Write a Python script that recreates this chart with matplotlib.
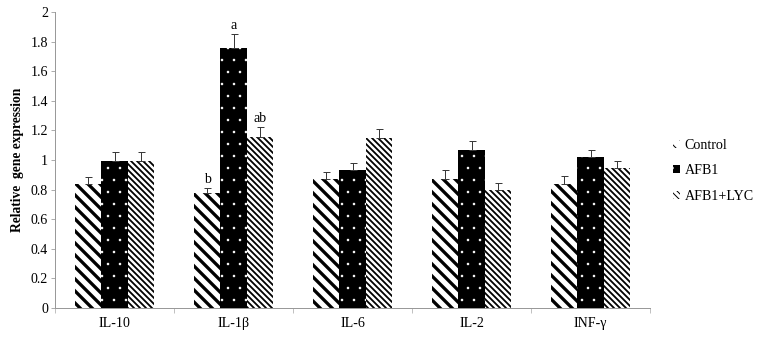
import matplotlib
matplotlib.use("Agg")
import matplotlib.pyplot as plt
import numpy as np

categories = ["IL-10", "IL-1β", "IL-6", "IL-2", "INF-γ"]
series = ["Control", "AFB1", "AFB1+LYC"]
control = [0.84, 0.775, 0.87, 0.875, 0.84]
afb1 = [0.995, 1.76, 0.93, 1.07, 1.02]
lyc = [0.995, 1.155, 1.15, 0.80, 0.945]
control_err = [0.045, 0.035, 0.05, 0.055, 0.05]
afb1_err = [0.06, 0.09, 0.05, 0.06, 0.05]
lyc_err = [0.06, 0.065, 0.06, 0.045, 0.05]
letters = {(1, 0): "b", (1, 1): "a", (1, 2): "ab"}
yticks = [0, 0.2, 0.4, 0.6, 0.8, 1, 1.2, 1.4, 1.6, 1.8, 2]

plt.rcParams['font.family'] = ['Liberation Serif', 'DejaVu Serif']

DPI = 72
fig = plt.figure(figsize=(765 / DPI, 339 / DPI), dpi=DPI)
ax = fig.add_axes([55 / 765, 1 - 308 / 339, (650 - 55) / 765, (308 - 12) / 339])

x = np.arange(len(categories))
w = 0.222
styles = [
    dict(facecolor="white", edgecolor="black", hatch="\\\\", hlw=3.3),
    dict(facecolor="black", edgecolor="white", hatch=".", hlw=0.1),
    dict(facecolor="white", edgecolor="black", hatch="\\\\\\\\", hlw=1.8),
]
data = [control, afb1, lyc]
errs = [control_err, afb1_err, lyc_err]
handles = []
for i, (vals, err, st) in enumerate(zip(data, errs, styles)):
    pos = x + (i - 1) * w
    with plt.rc_context({'hatch.linewidth': st['hlw']}):
        bars = ax.bar(pos, vals, width=w, facecolor=st['facecolor'],
                      edgecolor=st['edgecolor'], hatch=st['hatch'],
                      linewidth=0, label=series[i], zorder=2)
        for b in bars:
            if hasattr(b, "set_hatch_linewidth"):
                b.set_hatch_linewidth(st['hlw'])
    handles.append(bars)
    ax.errorbar(pos, vals, yerr=[np.zeros(len(vals)), err], fmt="none",
                ecolor="#3a3a3a", elinewidth=1, capsize=3.5, capthick=1, zorder=3)
    for j in range(len(vals)):
        if (j, i) in letters:
            ax.annotate(letters[(j, i)], (pos[j], vals[j] + err[j]),
                        xytext=(0, 2), textcoords="offset points",
                        ha="center", va="bottom", fontsize=14)

ax.set_xlim(-0.5, len(categories) - 0.5)
ax.set_ylim(0, 2)
ax.set_yticks(yticks)
ax.set_yticklabels([f"{t:g}" for t in yticks], fontsize=14)
ax.set_xticks(x)
ax.set_xticklabels(categories, fontsize=14)
ax.set_xticks(np.arange(len(categories) + 1) - 0.5, minor=True)
ax.tick_params(axis="x", which="major", length=0, pad=9)
ax.tick_params(axis="x", which="minor", length=5, color="#999999", direction="out")
ax.tick_params(axis="y", length=4, color="#999999", direction="out", pad=3)
for s in ["top", "right"]:
    ax.spines[s].set_visible(False)
for s in ["left", "bottom"]:
    ax.spines[s].set_color("#999999")
    ax.spines[s].set_linewidth(1)
ax.set_ylabel("Relative  gene expression", fontsize=13.5, fontweight="bold", labelpad=6)

leg = ax.legend(handles=handles, labels=series, loc="upper left",
                bbox_to_anchor=(667 / 765, 1 - 133 / 339), bbox_transform=fig.transFigure,
                frameon=False, fontsize=14, handlelength=0.5, handleheight=0.5,
                handletextpad=0.35, labelspacing=0.9, borderaxespad=0)

fig.savefig("out.png", dpi=DPI)
